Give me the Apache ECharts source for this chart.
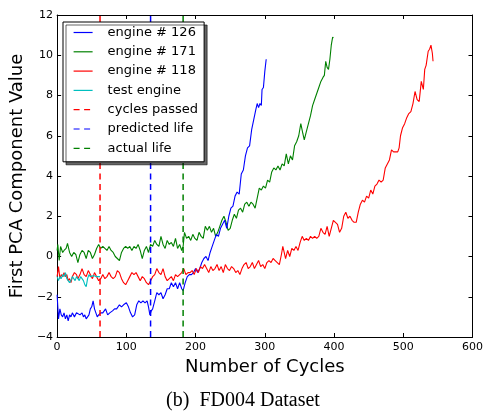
<!DOCTYPE html>
<html>
<head>
<meta charset="utf-8">
<script src="https://cdn.jsdelivr.net/npm/echarts@6/dist/echarts.min.js"></script>
<style>html,body{margin:0;padding:0;background:#fff;}#c{width:486px;height:413px;}</style>
</head>
<body>
<div id="c"></div>
<script>
// ---- data ----
const xTicks = [0, 100, 200, 300, 400, 500, 600];
const yTicks = [-4, -2, 0, 2, 4, 6, 8, 10, 12];

const e126Cycles = [0,2,4,6,8,10,12,14,16,18,20,22,25,28,30,33,36,38,40,42,44,46,48,50,52,54,56,58,60,63,66,70,73,76,80,83,86,90,93,96,100,103,106,109,112,115,118,121,124,127,130,132,134,136,138,141,144,147,150,153,156,159,162,165,168,171,174,177,180,182,185,188,191,194,197,200,203,206,209,212,215,218,221,224,227,230,233,236,239,242,245,248,251,254,257,260,263,266,269,272,275,278,281,284,287,289,291,293,295,296,298,300,302];
const e126Values = [-1.9,-3.1,-2.6,-2.9,-3.0,-2.8,-3.1,-2.9,-3.2,-2.9,-3.0,-2.8,-3.0,-2.8,-2.8,-2.9,-2.8,-3.0,-2.9,-3.1,-3.1,-2.9,-2.6,-2.5,-2.2,-2.6,-2.8,-3.0,-2.9,-2.8,-2.8,-2.6,-2.9,-2.8,-2.7,-2.6,-2.6,-2.4,-2.5,-2.4,-2.3,-2.5,-2.8,-3.0,-2.9,-2.4,-2.2,-2.3,-2.2,-2.3,-2.2,-2.5,-2.9,-2.7,-2.6,-2.2,-1.8,-1.9,-1.8,-2.1,-1.9,-1.6,-1.6,-1.3,-1.5,-1.3,-1.6,-1.3,-1.6,-1.7,-1.3,-1.0,-0.9,-0.9,-0.8,-0.6,-0.8,-0.6,-0.3,-0.1,0.0,-0.2,0.2,0.5,0.8,1.1,1.0,1.4,1.6,1.8,1.4,2.0,2.4,2.5,3.0,3.2,3.1,4.1,4.3,5.0,5.4,5.5,6.3,6.8,7.3,7.6,7.4,7.6,7.5,8.3,8.4,9.2,9.8];

const e171Cycles = [0,1,3,5,8,10,13,15,18,21,24,27,30,33,36,39,42,45,48,51,54,57,60,63,66,69,72,75,78,81,84,87,90,93,96,99,102,105,108,111,114,117,120,123,126,129,132,135,138,141,144,147,150,153,156,159,162,165,168,171,174,177,180,182,184,187,190,193,196,199,202,205,208,211,214,217,220,223,226,229,232,235,238,241,244,247,250,253,256,259,262,265,268,271,274,277,280,283,286,289,292,295,298,301,304,307,310,313,316,319,322,325,328,331,334,337,340,343,346,349,352,355,357,360,363,366,369,372,375,378,381,384,386,388,390,392,394,396,398,399];
const e171Values = [0.3,0.6,-0.2,0.5,0.2,0.3,0.4,0.65,0.2,0.0,0.2,0.1,-0.3,0.1,0.3,0.2,-0.1,0.3,0.2,-0.1,0.1,0.4,0.6,0.4,0.5,0.4,0.3,0.5,0.3,0.2,0.0,-0.1,-0.2,0.2,0.4,0.5,0.4,0.5,0.3,0.5,0.4,0.6,0.3,-0.1,0.3,0.5,0.2,0.6,0.5,0.8,0.6,0.5,1.0,0.6,0.4,0.8,0.6,0.7,0.5,0.9,0.4,0.6,0.3,0.5,1.2,0.9,1.0,0.8,1.1,0.9,0.8,1.2,1.0,0.9,1.5,1.3,1.5,1.2,1.4,1.0,1.2,1.5,1.8,2.0,1.7,1.3,1.4,1.8,2.1,1.9,2.3,2.4,2.2,2.6,2.7,2.5,2.7,2.6,2.4,2.9,3.4,3.3,3.5,3.4,3.8,3.7,4.2,4.4,4.3,4.5,4.3,4.6,4.5,5.1,4.6,5.0,4.8,5.5,5.7,6.0,6.6,6.1,5.8,6.2,6.6,7.0,7.5,7.8,8.1,8.4,8.7,8.9,9.0,9.7,9.4,9.3,9.8,10.5,10.9,10.85];

const e118Cycles = [0,2,4,6,8,10,12,14,16,18,20,22,25,28,30,33,36,39,42,45,48,51,54,57,60,63,66,69,72,75,78,81,84,87,90,93,96,99,102,105,108,111,114,117,120,123,126,129,132,135,138,141,144,147,150,153,156,159,162,165,168,171,174,177,180,183,186,189,192,195,198,201,204,207,210,213,216,219,222,225,228,231,234,237,240,243,246,249,252,255,258,261,264,267,270,273,276,279,282,285,288,291,294,297,300,303,306,309,312,315,318,321,324,326,328,330,333,336,339,342,345,348,351,354,357,360,363,366,369,372,375,378,381,384,387,390,393,396,399,402,405,408,411,414,417,420,423,426,429,432,435,438,441,444,447,450,453,456,459,462,465,468,471,474,477,480,483,486,489,492,494,496,499,502,505,508,511,514,517,520,523,526,529,531,533,536,538,540,542,543];
const e118Values = [-1.0,-0.5,-1.1,-0.9,-1.0,-0.8,-1.0,-0.9,-1.2,-1.1,-1.3,-1.0,-0.8,-0.9,-1.1,-0.9,-0.6,-0.9,-1.0,-0.7,-0.9,-1.1,-0.8,-1.0,-1.2,-1.1,-0.9,-1.1,-1.0,-0.8,-1.0,-1.1,-1.0,-0.7,-0.8,-1.1,-1.3,-1.4,-1.2,-1.0,-0.8,-0.9,-0.8,-1.0,-1.2,-1.0,-1.1,-1.3,-1.4,-1.2,-1.0,-0.9,-0.6,-0.8,-0.9,-0.6,-1.0,-1.2,-1.1,-1.0,-1.2,-0.9,-1.0,-0.9,-0.8,-0.6,-0.9,-0.8,-0.8,-0.7,-0.9,-0.6,-0.8,-0.5,-0.6,-0.4,-0.6,-0.8,-0.5,-0.7,-0.6,-0.4,-0.7,-0.5,-0.8,-0.4,-0.6,-0.7,-0.5,-0.6,-0.8,-0.7,-0.9,-0.6,-0.4,-0.3,-0.6,-0.5,-0.3,-0.6,-0.4,-0.2,-0.5,-0.4,-0.6,-0.3,-0.2,-0.3,-0.1,-0.2,-0.3,-0.4,0.1,0.5,0.2,-0.1,0.3,0.0,0.4,0.3,0.5,0.3,0.7,1.0,0.8,0.9,0.8,1.0,0.9,1.0,0.9,1.0,1.4,1.2,1.1,1.5,1.0,1.4,1.8,1.7,1.6,1.2,1.4,2.0,2.2,1.9,2.0,1.8,1.7,1.7,2.2,2.6,2.8,2.7,3.0,2.9,3.3,3.1,3.5,3.6,3.8,3.7,3.8,4.4,4.6,4.8,5.3,5.2,5.2,5.2,5.4,6.0,6.4,6.6,6.9,7.1,7.2,7.6,8.2,7.8,7.7,8.7,8.3,9.3,9.5,10.2,10.3,10.5,10.1,9.7];

const testCycles = [0,2,4,6,8,10,12,14,16,18,20,22,24,26,28,30,32,34,36,38,40,42,44,46,48,50,53,56,60,62];
const testValues = [-1.0,-1.2,-1.0,-1.1,-0.9,-1.0,-0.8,-1.1,-1.2,-1.3,-1.2,-1.0,-1.1,-1.2,-1.0,-1.1,-1.2,-1.0,-1.1,-1.2,-1.4,-1.5,-1.1,-0.9,-1.0,-1.0,-0.95,-1.0,-1.0,-1.0];

const cyclesPassed = 62;
const predictedLife = 135;
const actualLife = 182;

// ---- chart ----
const pairs = (xs, ys) => xs.map((x, i) => [x, ys[i]]);
const vline = (x) => [[x, yTicks[0]], [x, yTicks[yTicks.length - 1]]];
const minusFmt = v => String(v).replace('-', '\u2212');

const chart = echarts.init(document.getElementById('c'), null, {renderer: 'canvas'});
const lineSeries = (name, data, color, dashed) => ({
  name, type: 'line', data, showSymbol: false, symbol: 'none', animation: false,
  lineStyle: {color, width: dashed ? 1.5 : 1.1, type: dashed ? [6, 4.5] : 'solid'},
  itemStyle: {color}, z: dashed ? 3 : 2
});
const axisCommon = {
  axisLine: {show: true, onZero: false, lineStyle: {color: '#000', width: 1}},
  axisTick: {show: true, inside: true, length: 4, lineStyle: {color: '#000'}},
  splitLine: {show: false}
};
chart.setOption({
  animation: false,
  backgroundColor: '#fff',
  grid: {left: 57, right: 13, top: 15, bottom: 76, containLabel: false},
  title: {
    text: '(b)  FD004 Dataset', left: 'center', top: 386,
    textStyle: {fontFamily: 'Liberation Serif', fontSize: 20, fontWeight: 'normal', color: '#000'}
  },
  xAxis: [
    Object.assign({type: 'value', min: xTicks[0], max: xTicks[xTicks.length-1], interval: 100, position: 'bottom',
      name: 'Number of Cycles', nameLocation: 'middle', nameGap: 18,
      nameTextStyle: {fontFamily: 'DejaVu Sans', fontSize: 18, color: '#000'},
      axisLabel: {fontFamily: 'DejaVu Sans', fontSize: 11, color: '#000', margin: 5, formatter: minusFmt}}, axisCommon),
    Object.assign({type: 'value', min: xTicks[0], max: xTicks[xTicks.length-1], interval: 100, position: 'top',
      axisLabel: {show: false}}, axisCommon)
  ],
  yAxis: [
    Object.assign({type: 'value', min: yTicks[0], max: yTicks[yTicks.length-1], interval: 2, position: 'left',
      name: 'First PCA Component Value', nameLocation: 'middle', nameGap: 26,
      nameTextStyle: {fontFamily: 'DejaVu Sans', fontSize: 18, color: '#000'},
      axisLabel: {fontFamily: 'DejaVu Sans', fontSize: 11, color: '#000', margin: 4, formatter: minusFmt}}, axisCommon),
    Object.assign({type: 'value', min: yTicks[0], max: yTicks[yTicks.length-1], interval: 2, position: 'right',
      axisLabel: {show: false}}, axisCommon)
  ],
  legend: {
    orient: 'vertical', left: 63, top: 22,
    padding: [4, 6, 7, 10], itemWidth: 19, itemHeight: 14, itemGap: 6.3,
    backgroundColor: '#fff', borderColor: '#000', borderWidth: 1, borderRadius: 0,
    shadowColor: 'rgba(0,0,0,0.6)', shadowOffsetX: 3, shadowOffsetY: 3, shadowBlur: 0,
    itemStyle: {opacity: 0},
    lineStyle: {width: 1.2},
    textStyle: {fontFamily: 'DejaVu Sans', fontSize: 13, color: '#000', padding: [0, 0, 0, 10]},
    data: ['engine # 126', 'engine # 171', 'engine # 118', 'test engine', 'cycles passed', 'predicted life', 'actual life']
  },
  series: [
    lineSeries('engine # 171', pairs(e171Cycles, e171Values), '#008000'),
    lineSeries('engine # 126', pairs(e126Cycles, e126Values), '#0000ff'),
    lineSeries('engine # 118', pairs(e118Cycles, e118Values), '#ff0000'),
    lineSeries('test engine', pairs(testCycles, testValues), '#00bfbf'),
    lineSeries('cycles passed', vline(cyclesPassed), '#ff0000', true),
    lineSeries('predicted life', vline(predictedLife), '#0000ff', true),
    lineSeries('actual life', vline(actualLife), '#008000', true)
  ]
});
</script>
</body>
</html>
